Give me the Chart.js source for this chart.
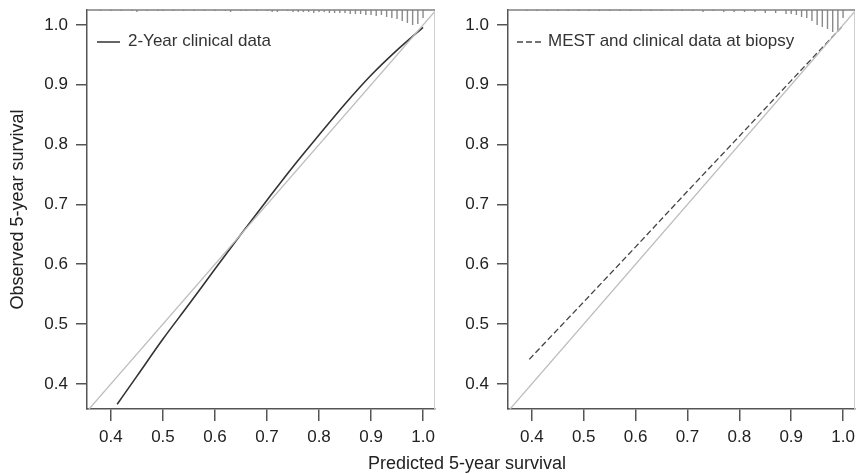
<!DOCTYPE html>
<html>
<head>
<meta charset="utf-8">
<script src="https://cdn.jsdelivr.net/npm/chart.js@4.4.1/dist/chart.umd.min.js"></script>
<style>
  html, body { margin: 0; padding: 0; background: #fff; }
  body { width: 856px; height: 474px; position: relative; overflow: hidden; font-family: "Liberation Sans", Arial, sans-serif; }
  canvas { position: absolute; top: 0; }
  #c1 { left: 0; }
  #c2 { left: 440px; }
  .leg { position: absolute; font-size: 17px; color: #333; white-space: nowrap; line-height: 20px; }
  .legsvg { position: absolute; }
  #xtitle { position: absolute; left: 267px; width: 400px; top: 453px; text-align: center; font-size: 18px; color: #222; line-height: 20px; }
</style>
</head>
<body>
<canvas id="c1" width="440" height="474"></canvas>
<canvas id="c2" width="416" height="474"></canvas>

<svg class="legsvg" style="left:95px;top:37px" width="28" height="10"><line x1="2" y1="5" x2="25" y2="5" stroke="#333" stroke-width="1.5"/></svg>
<div class="leg" id="leg1" style="left:128px;top:31px"></div>
<svg class="legsvg" style="left:515px;top:37px" width="32" height="10"><line x1="2" y1="5" x2="28" y2="5" stroke="#444" stroke-width="1.3" stroke-dasharray="6,3"/></svg>
<div class="leg" id="leg2" style="left:548px;top:31px"></div>
<div id="xtitle"></div>

<script>
// ---------- data ----------
const tickValues = [0.4, 0.5, 0.6, 0.7, 0.8, 0.9, 1.0];
const tickLabels = ['0.4', '0.5', '0.6', '0.7', '0.8', '0.9', '1.0'];

const xAxisTitle = 'Predicted 5-year survival';
const yAxisTitle = 'Observed 5-year survival';

const leftSeriesName = '2-Year clinical data';
const leftPredicted = [0.412, 0.45, 0.5, 0.55, 0.6, 0.65, 0.7, 0.75, 0.8, 0.85, 0.9, 0.95, 1.0];
const leftObserved  = [0.366, 0.413, 0.475, 0.533, 0.592, 0.650, 0.707, 0.763, 0.816, 0.868, 0.916, 0.958, 0.996];

const rightSeriesName = 'MEST and clinical data at biopsy';
const rightPredicted = [0.395, 0.5, 0.6, 0.7, 0.8, 0.9, 1.0];
const rightObserved  = [0.441, 0.537, 0.629, 0.722, 0.814, 0.907, 0.999];

const diagonalLine = [0.3, 1.1];

// distribution of predictions (spike histogram along the top)
const leftSpikeX = [0.38,0.40,0.42,0.44,0.45,0.47,0.49,0.50,0.52,0.54,0.56,0.58,0.60,0.62,0.63,0.65,0.66,0.68,0.70,0.71,0.72,0.74,0.75,0.76,0.77,0.78,0.79,0.80,0.81,0.82,0.83,0.84,0.85,0.86,0.87,0.88,0.89,0.90,0.91,0.92,0.93,0.94,0.95,0.96,0.97,0.98,0.99,1.00];
const leftSpikeCount = [1,1,1,1,2,1,1,1,1,1, 1,1,1,1,2,1,1,1,1,2, 2,1,2,2,2,2,3,2,2,3, 3,3,3,4,4,4,5,5,6,5, 7,8,9,11,13,15,14,8];

const rightSpikeX = [0.39,0.41,0.43,0.45,0.47,0.49,0.51,0.53,0.55,0.57,0.59,0.61,0.63,0.65,0.67,0.69,0.71,0.73,0.75,0.77,0.79,0.81,0.83,0.85,0.87,0.89,0.90,0.91,0.92,0.93,0.94,0.95,0.96,0.97,0.98,0.99,1.00];
const rightSpikeCount = [1,1,1,1,1,1,1,1,1,1,1,1,1,1,1,1,1, 2,1,2,2,2,2,3,3,4,4,5,7,8,11,15,17,19,22,20,8];

// ---------- layout / style ----------
const X_MIN = 0.354, X_MAX = 1.023;
const Y_MIN = 0.358, Y_MAX = 1.025;
const SPIKE_UNIT = 0.00167;
const FONT = '"Liberation Sans", Arial, sans-serif';

document.getElementById('leg1').textContent = leftSeriesName;
document.getElementById('leg2').textContent = rightSeriesName;
document.getElementById('xtitle').textContent = xAxisTitle;

function spikeData(xs, counts) {
  const d = [];
  xs.forEach((x, i) => {
    d.push({ x: x, y: Y_MAX });
    d.push({ x: x, y: Y_MAX - counts[i] * SPIKE_UNIT });
    d.push({ x: x, y: null });
  });
  return d;
}
function pairs(xs, ys) { return xs.map((x, i) => ({ x: x, y: ys[i] })); }

function labelFor(v) {
  const i = tickValues.findIndex(t => Math.abs(t - v) < 1e-6);
  return i >= 0 ? tickLabels[i] : '';
}

const boxPlugin = {
  id: 'box',
  afterDatasetsDraw(chart) {
    const a = chart.chartArea, ctx = chart.ctx;
    ctx.save();
    ctx.strokeStyle = '#cfcfcf';
    ctx.lineWidth = 1;
    ctx.beginPath();
    ctx.moveTo(a.right - 0.5, a.top);
    ctx.lineTo(a.right - 0.5, a.bottom);
    ctx.stroke();
    ctx.strokeStyle = '#808080';
    ctx.lineWidth = 1.5;
    ctx.beginPath();
    ctx.moveTo(a.left, a.top);
    ctx.lineTo(a.right, a.top);
    ctx.stroke();
    ctx.restore();
  }
};

function makeChart(id, datasets, yWidth, padRight, showTitle) {
  return new Chart(document.getElementById(id), {
    type: 'line',
    data: { datasets: datasets },
    options: {
      responsive: false,
      animation: false,
      devicePixelRatio: 1,
      layout: { padding: { top: 10, right: padRight, left: 0, bottom: 0 } },
      plugins: { legend: { display: false }, tooltip: { enabled: false } },
      elements: { point: { radius: 0 } },
      scales: {
        x: {
          type: 'linear', min: X_MIN, max: X_MAX,
          afterBuildTicks: s => { s.ticks = tickValues.map(v => ({ value: v })); },
          afterFit: s => { s.height = 65; s.paddingLeft = 0; s.paddingRight = 0; },
          ticks: { callback: v => labelFor(v), color: '#222', font: { size: 17, family: FONT }, padding: 6, maxRotation: 0, autoSkip: false },
          grid: { drawOnChartArea: false, drawTicks: true, tickLength: 12, color: '#555', lineWidth: 1.5 },
          border: { display: true, color: '#555', width: 1.5 }
        },
        y: {
          type: 'linear', min: Y_MIN, max: Y_MAX,
          afterBuildTicks: s => { s.ticks = tickValues.map(v => ({ value: v })); },
          afterFit: s => { s.width = yWidth; s.paddingTop = 0; s.paddingBottom = 0; },
          ticks: { callback: v => labelFor(v), color: '#222', font: { size: 17, family: FONT }, padding: 8, autoSkip: false },
          grid: { drawOnChartArea: false, drawTicks: true, tickLength: 11, color: '#555', lineWidth: 1.5 },
          border: { display: true, color: '#555', width: 1.5 },
          title: { display: showTitle, text: yAxisTitle, color: '#222', font: { size: 18, family: FONT }, padding: { top: 7, bottom: 0 } }
        }
      }
    },
    plugins: [boxPlugin]
  });
}

makeChart('c1', [
  { data: pairs(diagonalLine, diagonalLine), borderColor: '#bdbdbd', borderWidth: 1.3, pointRadius: 0 },
  { data: spikeData(leftSpikeX, leftSpikeCount), borderColor: '#8a8a8a', borderWidth: 1.4, pointRadius: 0, spanGaps: false },
  { data: pairs(leftPredicted, leftObserved), borderColor: '#333', borderWidth: 1.6, pointRadius: 0, cubicInterpolationMode: 'monotone' }
], 87, 5, true);

makeChart('c2', [
  { data: pairs(diagonalLine, diagonalLine), borderColor: '#bdbdbd', borderWidth: 1.3, pointRadius: 0 },
  { data: spikeData(rightSpikeX, rightSpikeCount), borderColor: '#8a8a8a', borderWidth: 1.4, pointRadius: 0, spanGaps: false },
  { data: pairs(rightPredicted, rightObserved), borderColor: '#444', borderWidth: 1.3, borderDash: [6, 3], pointRadius: 0 }
], 68, 1, false);
</script>
</body>
</html>
